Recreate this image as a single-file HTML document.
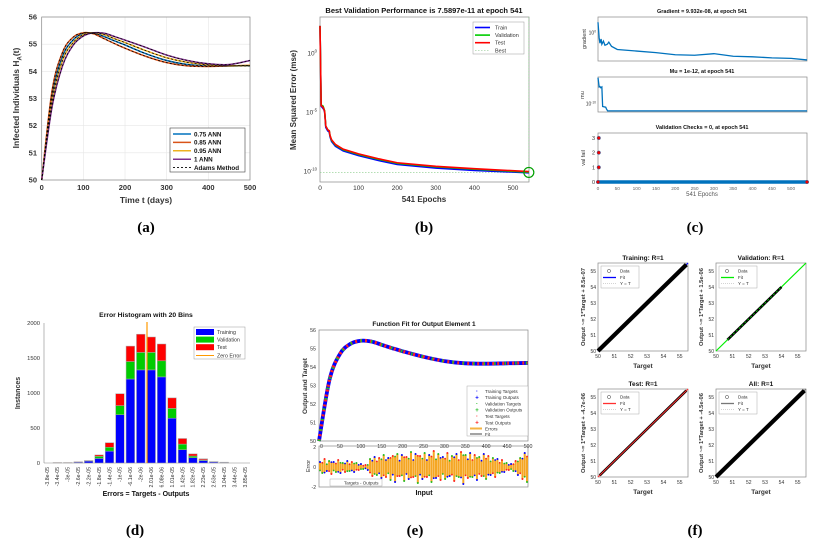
<!DOCTYPE html>
<html><head><meta charset="utf-8"><style>
html,body{margin:0;padding:0;background:#fff;}
svg{display:block;font-family:"Liberation Sans",Arial,sans-serif;}
</style></head><body>
<svg id="fig" width="826" height="543" viewBox="0 0 826 543" xmlns="http://www.w3.org/2000/svg"></svg>
<script>
// ---------- DATA ----------
// (a) infected individuals
const aT = [0,25,50,75,100,125,150,175,200,250,300,350,400,450,500];
const a075 = [50,53.1,54.55,55.15,55.4,55.4,55.28,55.12,54.97,54.65,54.4,54.25,54.2,54.2,54.2];
const a085 = [50,53.3,54.7,55.25,55.42,55.38,55.2,55.02,54.85,54.55,54.32,54.2,54.18,54.2,54.22];
const a095 = [50,52.9,54.4,55.05,55.35,55.42,55.35,55.2,55.06,54.76,54.5,54.33,54.24,54.2,54.22];
const a100 = [50,52.7,54.2,54.95,55.3,55.42,55.4,55.28,55.15,54.88,54.6,54.4,54.28,54.25,54.4];
const aLegend = ["0.75 ANN","0.85 ANN","0.95 ANN","1 ANN","Adams Method"];
// (b) performance (log10 mse)
const bEpochs = [0,3,8,10,12,15,20,24,26,30,40,60,100,150,200,300,400,541];
const bTrain = [2.3,-4.5,-4.7,-4.8,-5.0,-6.3,-6.6,-6.7,-7.1,-7.5,-7.9,-8.3,-8.7,-9.1,-9.45,-9.75,-9.95,-10.15];
const bVal =   [2.3,-4.4,-4.5,-4.7,-4.9,-6.2,-6.5,-6.6,-7.0,-7.4,-7.8,-8.2,-8.6,-9.0,-9.35,-9.65,-9.85,-10.1];
const bTest =  [2.3,-4.45,-4.6,-4.75,-4.95,-6.2,-6.5,-6.6,-7.0,-7.35,-7.75,-8.15,-8.55,-8.95,-9.3,-9.6,-9.8,-10.05];
const bBest = -10.12;
// (c) training state
const cGradE = [0,3,5,8,10,14,18,24,28,35,50,100,150,200,250,300,350,400,450,500,541];
const cGrad = [1,-0.5,-1,-0.6,-1.1,-0.8,-1.2,-1.1,-0.9,-1.3,-1.6,-1.75,-1.9,-2.1,-2.15,-2.0,-2.25,-2.3,-2.4,-2.45,-2.6];
const cMuE = [0,3,5,7,10,12,20,22,25,541];
const cMu = [-3,-5.5,-5.4,-5.7,-5.5,-10.8,-11,-11.5,-12,-12];
const cFailE = [2,2,2,0,541];
const cFail = [3,2,1,0,0];
// (d) histogram
const dBins = ["-3.8e-05","-3.4e-05","-3e-05","-2.6e-05","-2.2e-05","-1.8e-05","-1.4e-05","-1e-05","-6.1e-06","-2e-06","2.01e-06","6.08e-06","1.01e-05","1.42e-05","1.82e-05","2.23e-05","2.63e-05","3.04e-05","3.44e-05","3.85e-05"];
const dTrain = [0,4,4,12,28,65,170,690,1200,1330,1330,1230,640,190,75,35,15,8,0,0];
const dVal =   [0,1,1,2,4,30,55,130,250,250,250,230,140,80,25,10,3,2,0,0];
const dTest =  [0,1,1,2,4,20,65,170,220,260,220,240,150,80,30,15,2,2,0,0];
// (e) fit errors
const eErr = [0.5,-0.6,0.8,-0.4,0.6,-0.7,0.5,-0.5,0.7,-0.6,0.4,-0.5,0.6,-0.4,0.5,-0.5,0.4,-0.3,0.3,-0.2,0.2,-0.3,0.8,-0.9,1.0,-0.8,0.9,-1.1,1.2,-1.0,0.9,-1.3,1.1,-1.5,1.3,-0.9,1.2,-1.4,1.0,-1.2,1.5,-1.0,1.3,-1.6,1.1,-1.2,1.4,-1.0,1.2,-1.5,1.6,-1.1,1.3,-1.3,1.0,-1.2,1.4,-0.9,1.1,-1.4,1.3,-1.0,1.5,-1.7,1.2,-1.1,1.4,-1.0,1.2,-1.3,1.0,-0.9,1.3,-1.2,1.1,-0.8,0.9,-1.0,0.8,-0.6,0.7,-0.5,0.4,-0.3,0.3,-0.4,0.6,-0.8,0.9,-1.2,1.4,-1.5];
// (f) regression
const fPanels = ["Training: R=1","Validation: R=1","Test: R=1","All: R=1"];
const fYlabels = ["Output ~= 1*Target + 8.5e-07","Output ~= 1*Target + 1.5e-06","Output ~= 1*Target + -4.7e-06","Output ~= 1*Target + -4.5e-06"];
const fRange = [[50,55.4],[50.7,54.0],[50.1,55.4],[50,55.4]];

// ---------- HELPERS ----------
const NS="http://www.w3.org/2000/svg";
const svg=document.getElementById('fig');
function nm(e,n,i){
  
  
  return e;
}
function mk(tag,attrs,parent,name){
  const e=document.createElementNS(NS,tag);
  for(const k in attrs)e.setAttribute(k,attrs[k]);
  (parent||svg).appendChild(e);
  nm(e,name||tag,false);
  return e;
}
function txt(s,x,y,o,parent,name){
  o=o||{};
  const a={x:x,y:y,'font-size':o.fs||6,fill:o.fill||'#333','text-anchor':o.anchor||'middle'};
  if(o.bold)a['font-weight']='bold';
  if(o.rot!==undefined)a.transform='rotate('+o.rot+' '+x+' '+y+')';
  if(o.family)a['font-family']=o.family;
  const t=mk('text',a,parent,name||'label');t.textContent=s;return t;
}
function pow10(base,exp,x,y,fs,parent){
  const t=mk('text',{x:x,y:y,'font-size':fs,fill:'#333','text-anchor':'end'},parent,'y-tick-label');
  const b=document.createElementNS(NS,'tspan');b.textContent=base;t.appendChild(b);
  const e=document.createElementNS(NS,'tspan');e.setAttribute('dy',-fs*0.45);e.setAttribute('font-size',fs*0.65);e.textContent=exp;t.appendChild(e);
  return t;
}
function lin(d0,d1,r0,r1){return v=>r0+(v-d0)/(d1-d0)*(r1-r0);}
function smooth(pts){
  let d='M'+pts[0][0]+','+pts[0][1];
  for(let i=0;i<pts.length-1;i++){
    const p0=pts[i-1]||pts[i],p1=pts[i],p2=pts[i+1],p3=pts[i+2]||p2;
    const c1=[p1[0]+(p2[0]-p0[0])/6,p1[1]+(p2[1]-p0[1])/6];
    const c2=[p2[0]-(p3[0]-p1[0])/6,p2[1]-(p3[1]-p1[1])/6];
    d+='C'+c1.join(',')+' '+c2.join(',')+' '+p2.join(',');
  }
  return d;
}
function poly(xs,ys,fx,fy){return xs.map((v,i)=>[fx(v),fy(ys[i])]);}
function box(x,y,w,h,g,name){return mk('rect',{x:x,y:y,width:w,height:h,fill:'none',stroke:'#888','stroke-width':0.7},g,name||'axes-box');}

// ---------- (a) ----------
(function(){
const g=mk('g',{},svg,'panel-a');
const X=lin(0,500,41.7,250),Y=lin(50,56,180,17);
for(let v=50;v<=56;v++){mk('line',{x1:41.7,x2:250,y1:Y(v),y2:Y(v),stroke:'#e6e6e6','stroke-width':0.6},g,'grid-line');txt(String(v),37,Y(v)+2.5,{fs:7.5,bold:true,anchor:'end'},g,'y-tick-label');}
for(let t=0;t<=500;t+=100){mk('line',{x1:X(t),x2:X(t),y1:17,y2:180,stroke:'#e6e6e6','stroke-width':0.6},g,'grid-line');txt(String(t),X(t),190,{fs:7.5,bold:true},g,'x-tick-label');}
box(41.7,17,208.3,163,g);
const series=[[a075,'#0072BD'],[a085,'#D95319'],[a095,'#EDB120'],[a100,'#7E2F8E']];
series.forEach((s,i)=>{mk('path',{d:smooth(poly(aT,s[0],X,Y)),fill:'none',stroke:s[1],'stroke-width':1.5},g,'line-'+aLegend[i].replace(/[ .]/g,'-').toLowerCase());});
series.forEach(s=>{mk('path',{d:smooth(poly(aT,s[0],X,Y)),fill:'none',stroke:'#000','stroke-width':0.8,'stroke-dasharray':'2,2'},g,'adams-line');});
txt('Time t (days)',146,203,{fs:8.5,bold:true},g,'x-axis-title');
const yl=mk('text',{x:19,y:98,'font-size':8.5,'font-weight':'bold',fill:'#333','text-anchor':'middle',transform:'rotate(-90 19 98)'},g,'y-axis-title');
const t1=document.createElementNS(NS,'tspan');t1.textContent='Infected Individuals H';yl.appendChild(t1);
const t2=document.createElementNS(NS,'tspan');t2.setAttribute('dy','2.5');t2.setAttribute('font-size','6');t2.textContent='A';yl.appendChild(t2);
const t3=document.createElementNS(NS,'tspan');t3.setAttribute('dy','-2.5');t3.textContent='(t)';yl.appendChild(t3);
const lg=mk('g',{},g,'legend');
mk('rect',{x:170,y:128,width:75,height:44,fill:'#fff',stroke:'#444','stroke-width':0.6},lg,'legend-box');
const cols=['#0072BD','#D95319','#EDB120','#7E2F8E','#000'];
aLegend.forEach((n,i)=>{const y=134+i*8.4;mk('line',{x1:173,x2:191,y1:y,y2:y,stroke:cols[i],'stroke-width':i<4?1.5:0.9,'stroke-dasharray':i==4?'2,2':''},lg,'legend-swatch');txt(n,194,y+2.3,{fs:6.3,bold:true,anchor:'start',fill:'#111'},lg,'legend-entry');});
txt('(a)',146,232,{family:'"Liberation Serif",serif',fs:15,bold:true,fill:'#000'},g,'panel-label-a');
})();

// ---------- (b) ----------
(function(){
const g=mk('g',{},svg,'panel-b');
const X=lin(0,500,320,513),Y=lin(0,-10,53,171);
box(320,17,209,165,g);
[0,-5,-10].forEach(p=>pow10('10',String(p),317,Y(p)+2.5,6.5,g));
for(let t=0;t<=500;t+=100)txt(String(t),X(t),190,{fs:6.5},g,'x-tick-label');
mk('line',{x1:320,x2:529,y1:Y(bBest),y2:Y(bBest),stroke:'#8c8','stroke-width':0.6,'stroke-dasharray':'1.5,1.5'},g,'best-hline');
mk('line',{x1:X(541),x2:X(541),y1:17,y2:182,stroke:'#8c8','stroke-width':0.6,'stroke-dasharray':'1.5,1.5'},g,'best-vline');
[[bTrain,'#0000ff','train-line'],[bVal,'#00cc00','validation-line'],[bTest,'#ff0000','test-line']].forEach(s=>{mk('path',{d:'M'+poly(bEpochs,s[0],X,Y).join('L'),fill:'none',stroke:s[1],'stroke-width':1.6},g,s[2]);});
mk('circle',{cx:X(541),cy:Y(bBest),r:5,fill:'none',stroke:'#00a000','stroke-width':1.2},g,'best-marker');
txt('Best Validation Performance is 7.5897e-11 at epoch 541',424,13,{fs:7.5,bold:true,fill:'#111'},g,'chart-title');
txt('541 Epochs',424,202,{fs:8,bold:true},g,'x-axis-title');
txt('Mean Squared Error  (mse)',296,100,{fs:8,bold:true,rot:-90},g,'y-axis-title');
const lg=mk('g',{},g,'legend');
mk('rect',{x:473,y:22,width:51,height:32,fill:'#fff',stroke:'#999','stroke-width':0.5},lg,'legend-box');
[['Train','#0000ff'],['Validation','#00cc00'],['Test','#ff0000'],['Best','#9c9']].forEach((p,i)=>{const y=27.5+i*7.6;mk('line',{x1:475,x2:490,y1:y,y2:y,stroke:p[1],'stroke-width':i<3?1.6:0.6,'stroke-dasharray':i==3?'1.5,1.5':''},lg,'legend-swatch');txt(p[0],495,y+2,{fs:5.5,anchor:'start'},lg,'legend-entry');});
txt('(b)',424,232,{family:'"Liberation Serif",serif',fs:15,bold:true,fill:'#000'},g,'panel-label-b');
})();

// ---------- (c) ----------
(function(){
const g=mk('g',{},svg,'panel-c');
const X=lin(0,541,598,807);
const Yg=lin(1.5,-2.7,17,61);
box(598,17,209,44,g,'gradient-axes');
mk('path',{d:'M'+poly(cGradE,cGrad,X,Yg).join('L'),fill:'none',stroke:'#0072BD','stroke-width':1.3},g,'gradient-line');
pow10('10','0',596,Yg(0)+2,5,g);
txt('Gradient = 9.932e-08, at epoch 541',702,13,{fs:5.5,bold:true,fill:'#111'},g,'gradient-title');
txt('gradient',586,39,{fs:5.5,rot:-90},g,'gradient-y-title');
const Ym=lin(-2.8,-12.3,77,112);
box(598,77,209,35,g,'mu-axes');
mk('path',{d:'M'+poly(cMuE,cMu,X,Ym).join('L'),fill:'none',stroke:'#0072BD','stroke-width':1.3},g,'mu-line');
pow10('10','-10',596,Ym(-10)+2,5,g);
txt('Mu = 1e-12, at epoch 541',702,73,{fs:5.5,bold:true,fill:'#111'},g,'mu-title');
txt('mu',584,95,{fs:5.5,rot:-90},g,'mu-y-title');
const Yv=lin(0,3,182,138);
box(598,133,209,49,g,'valfail-axes');
for(let v=0;v<=3;v++)txt(String(v),595,Yv(v)+2,{fs:5.5,anchor:'end'},g,'y-tick-label');
mk('line',{x1:598,x2:807,y1:Yv(0),y2:Yv(0),stroke:'#0072BD','stroke-width':3.5},g,'valfail-band');
cFailE.forEach((e,i)=>{mk('circle',{cx:X(e),cy:Yv(cFail[i]),r:1.8,fill:'#e00',stroke:'#0072BD','stroke-width':0.4},g,'valfail-point');});
for(let t=0;t<=500;t+=50)txt(String(t),X(t),190,{fs:4.8,fill:'#666'},g,'x-tick-label');
txt('Validation Checks = 0, at epoch 541',702,129,{fs:5.5,bold:true,fill:'#111'},g,'valfail-title');
txt('val fail',585,158,{fs:5.5,rot:-90},g,'valfail-y-title');
txt('541 Epochs',702,196,{fs:6,fill:'#555'},g,'x-axis-title');
txt('(c)',695,232,{family:'"Liberation Serif",serif',fs:15,bold:true,fill:'#000'},g,'panel-label-c');
})();

// ---------- (d) ----------
(function(){
const g=mk('g',{},svg,'panel-d');
const Y=lin(0,2000,463,323);const cx=i=>47+i*10.42;
mk('line',{x1:44,x2:250,y1:463,y2:463,stroke:'#888','stroke-width':0.6},g,'x-axis');
mk('line',{x1:44,x2:44,y1:323,y2:463,stroke:'#888','stroke-width':0.6},g,'y-axis');
for(let v=0;v<=2000;v+=500)txt(String(v),40,Y(v)+2,{fs:5.8,anchor:'end'},g,'y-tick-label');
dBins.forEach((b,i)=>{
  const t=dTrain[i],v=dVal[i],s=dTest[i];const x=cx(i)-4.3;
  if(t+v+s>0){
    mk('rect',{x:x,y:Y(t),width:8.6,height:463-Y(t),fill:'#0000ff',stroke:'#aaa','stroke-width':0.5},g,'bar-training-'+i);
    mk('rect',{x:x,y:Y(t+v),width:8.6,height:Y(t)-Y(t+v),fill:'#00cc00',stroke:'#aaa','stroke-width':0.5},g,'bar-validation-'+i);
    mk('rect',{x:x,y:Y(t+v+s),width:8.6,height:Y(t+v)-Y(t+v+s),fill:'#ff0000',stroke:'#aaa','stroke-width':0.5},g,'bar-test-'+i);
  }
  txt(b,cx(i)+1.8,467,{fs:5.2,anchor:'end',rot:-90},g,'x-tick-label');
});
mk('line',{x1:147,x2:147,y1:322,y2:463,stroke:'#ff9900','stroke-width':1.2},g,'zero-error-line');
txt('Error Histogram with 20 Bins',146,317,{fs:6.8,bold:true,fill:'#111'},g,'chart-title');
txt('Errors = Targets - Outputs',146,496,{fs:7,bold:true,fill:'#111'},g,'x-axis-title');
txt('Instances',20,393,{fs:7,bold:true,rot:-90},g,'y-axis-title');
const lg=mk('g',{},g,'legend');
mk('rect',{x:194,y:327,width:51,height:32,fill:'#fff',stroke:'#999','stroke-width':0.5},lg,'legend-box');
[['Training','#0000ff'],['Validation','#00cc00'],['Test','#ff0000']].forEach((p,i)=>{mk('rect',{x:196,y:329+i*7.6,width:18,height:6,fill:p[1]},lg,'legend-swatch');txt(p[0],217,334+i*7.6,{fs:5.3,anchor:'start'},lg,'legend-entry');});
mk('line',{x1:196,x2:214,y1:355.5,y2:355.5,stroke:'#ff9900','stroke-width':1},lg,'legend-swatch');
txt('Zero Error',217,357.5,{fs:5.3,anchor:'start'},lg,'legend-entry');
txt('(d)',135,535,{family:'"Liberation Serif",serif',fs:15,bold:true,fill:'#000'},g,'panel-label-d');
})();

// ---------- (e) ----------
(function(){
const g=mk('g',{},svg,'panel-e');
const X=lin(0,500,319,528),Y=lin(50,56,441,330);
box(319,330,209,111,g,'fit-axes');
for(let v=50;v<=56;v++)txt(String(v),316,Y(v)+2,{fs:5.3,anchor:'end'},g,'y-tick-label');
for(let t=50;t<=500;t+=50)txt(String(t),X(t),448,{fs:5.3},g,'x-tick-label');
txt('0',320,448,{fs:5.3,anchor:'start'},g,'x-tick-label');
const d=smooth(poly(aT,a085,X,Y));
mk('path',{d:d,fill:'none',stroke:'#0000ff','stroke-width':3.8},g,'training-points');
mk('path',{d:d,fill:'none',stroke:'#ff2020','stroke-width':3.2,'stroke-dasharray':'2,3'},g,'test-points');
mk('path',{d:d,fill:'none',stroke:'#22bb22','stroke-width':3.2,'stroke-dasharray':'1.5,9'},g,'validation-points');
const Ye=lin(-2,2,487,447);const ex=i=>320+i*(207/(eErr.length-1));
box(319,446,209,41,g,'error-axes');
[-2,0,2].forEach(v=>txt(String(v),316,Ye(v)+2,{fs:5,anchor:'end'},g,'y-tick-label'));
const dotc=['#0000ff','#22bb22','#ff2020'];
eErr.forEach((v,i)=>{
  mk('line',{x1:ex(i),x2:ex(i),y1:Ye(-v*0.7),y2:Ye(v),stroke:'#f5a623','stroke-width':2},g,'error-stem');
  mk('circle',{cx:ex(i),cy:Ye(v),r:1,fill:dotc[i%3]},g,'error-point');
  mk('circle',{cx:ex(i),cy:Ye(-v*0.7),r:0.9,fill:dotc[(i+1)%3]},g,'error-point');
});
mk('rect',{x:330,y:479,width:52,height:7,fill:'#fff',stroke:'#999','stroke-width':0.4},g,'error-legend');
txt('Targets - Outputs',344,484.5,{fs:4.5,anchor:'start'},g,'legend-entry');
txt('Function Fit for Output Element 1',424,326,{fs:6.5,bold:true,fill:'#111'},g,'chart-title');
txt('Output and Target',307,386,{fs:6.5,bold:true,rot:-90},g,'y-axis-title');
txt('Error',310,466,{fs:5.5,rot:-90},g,'error-y-title');
txt('Input',424,495,{fs:7,bold:true,fill:'#111'},g,'x-axis-title');
const lg=mk('g',{},g,'legend');
mk('rect',{x:467,y:386,width:61,height:50,fill:'#fff',stroke:'#999','stroke-width':0.4},lg,'legend-box');
[['Training Targets','#0000ff','·'],['Training Outputs','#0000ff','+'],['Validation Targets','#22bb22','·'],['Validation Outputs','#22bb22','+'],['Test Targets','#ff2020','·'],['Test Outputs','#ff2020','+']].forEach((p,i)=>{const y=391+i*6.3;txt(p[2],477,y+2,{fs:6,fill:p[1],bold:true},lg,'legend-marker');txt(p[0],485,y+1.8,{fs:4.6,anchor:'start'},lg,'legend-entry');});
mk('line',{x1:470,x2:482,y1:428.5,y2:428.5,stroke:'#f5b342','stroke-width':2},lg,'legend-swatch');
txt('Errors',485,430.3,{fs:4.6,anchor:'start'},lg,'legend-entry');
mk('line',{x1:470,x2:482,y1:434,y2:434,stroke:'#333','stroke-width':0.9},lg,'legend-swatch');
txt('Fit',485,435.8,{fs:4.6,anchor:'start'},lg,'legend-entry');
txt('(e)',415,535,{family:'"Liberation Serif",serif',fs:15,bold:true,fill:'#000'},g,'panel-label-e');
})();

// ---------- (f) ----------
(function(){
const g=mk('g',{},svg,'panel-f');
const pos=[[598,263],[716,263],[598,389],[716,389]];
const fitC=['#0000ff','#00ee00','#ff3030','#777'];
pos.forEach((p,k)=>{
  const sg=mk('g',{},g,'regression-'+['training','validation','test','all'][k]);
  const X=lin(50,55.5,p[0],p[0]+90),Y=lin(50,55.5,p[1]+88,p[1]);
  box(p[0],p[1],90,88,sg);
  for(let v=50;v<=55;v++){txt(String(v),X(v),p[1]+95,{fs:5},sg,'x-tick-label');txt(String(v),p[0]-2,Y(v)+2,{fs:5,anchor:'end'},sg,'y-tick-label');}
  mk('line',{x1:X(50),y1:Y(50),x2:X(55.5),y2:Y(55.5),stroke:fitC[k],'stroke-width':1.2},sg,'fit-line');
  const r=fRange[k];
  mk('line',{x1:X(r[0]),y1:Y(r[0]),x2:X(r[1]),y2:Y(r[1]),stroke:'#000','stroke-width':k==1||k==2?2.6:4.2},sg,'data-points');
  if(k==2)mk('line',{x1:X(r[0]),y1:Y(r[0]),x2:X(r[1]),y2:Y(r[1]),stroke:'#ff3030','stroke-width':1},sg,'fit-overlay');
  if(k==1)mk('line',{x1:X(r[0]),y1:Y(r[0]),x2:X(r[1]),y2:Y(r[1]),stroke:'#00dd00','stroke-width':0.8,'stroke-dasharray':'2,2'},sg,'fit-overlay');
  txt(fPanels[k],p[0]+45,p[1]-3,{fs:6.5,bold:true,fill:'#111'},sg,'subplot-title');
  txt('Target',p[0]+45,p[1]+105,{fs:6.5,bold:true},sg,'x-axis-title');
  txt(fYlabels[k],p[0]-13,p[1]+44,{fs:5.8,bold:true,rot:-90},sg,'y-axis-title');
  mk('rect',{x:p[0]+3,y:p[1]+3,width:38,height:22,fill:'#fff',stroke:'#999','stroke-width':0.4},sg,'legend-box');
  mk('circle',{cx:p[0]+11,cy:p[1]+8,r:1.6,fill:'none',stroke:'#333','stroke-width':0.5},sg,'legend-marker');
  txt('Data',p[0]+22,p[1]+9.5,{fs:4.5,anchor:'start'},sg,'legend-entry');
  mk('line',{x1:p[0]+5,x2:p[0]+18,y1:p[1]+14.5,y2:p[1]+14.5,stroke:fitC[k],'stroke-width':1.3},sg,'legend-swatch');
  txt('Fit',p[0]+22,p[1]+16,{fs:4.5,anchor:'start'},sg,'legend-entry');
  mk('line',{x1:p[0]+5,x2:p[0]+18,y1:p[1]+20.5,y2:p[1]+20.5,stroke:'#aaa','stroke-width':0.5,'stroke-dasharray':'1,1'},sg,'legend-swatch');
  txt('Y = T',p[0]+22,p[1]+22,{fs:4.5,anchor:'start'},sg,'legend-entry');
});
txt('(f)',695,535,{family:'"Liberation Serif",serif',fs:15,bold:true,fill:'#000'},g,'panel-label-f');
})();
</script>
</body></html>
